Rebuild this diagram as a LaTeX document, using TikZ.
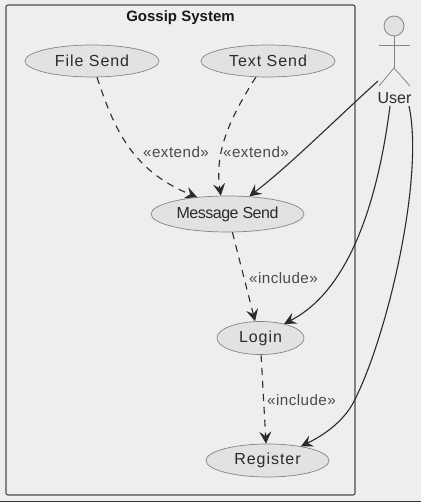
\documentclass[tikz,border=0pt]{standalone}
\usepackage{fontspec}
\setmainfont{Liberation Sans}
\newfontfamily\widefont[LetterSpace=6]{Liberation Sans}
\newfontfamily\labelfont[LetterSpace=3]{Liberation Sans}
\newfontfamily\tightfont[LetterSpace=-3]{Liberation Sans}
\usetikzlibrary{arrows.meta,shapes.geometric}
\definecolor{pagebg}{HTML}{EEEEEE}
\definecolor{casefill}{HTML}{E2E2E2}
\definecolor{caseline}{HTML}{858585}
\definecolor{edgeink}{HTML}{2B2B2B}

\begin{document}
\begin{tikzpicture}[x=1pt, y=-1pt, every node/.style={font=\fontsize{16}{18}\selectfont, text=edgeink, inner sep=0pt},
	usecase/.style={draw=caseline, fill=casefill, ellipse, line width=0.7pt, minimum height=32pt},
	stick/.style={draw=caseline, line width=0.8pt},
	edgelabel/.style={font=\labelfont\fontsize{15.2}{17}\selectfont, text=edgeink!85!white},
	assoc/.style={edgeink, line width=1.1pt, -{Stealth[length=12pt, width=12pt, inset=4.5pt]}},
	relation/.style={assoc, dash pattern=on 7pt off 6pt}]
	\useasboundingbox (0,0) rectangle (421,502);
	\fill[pagebg] (0,0) rectangle (421,502);
	\draw[black!80, line width=1pt] (0,501.5) -- (421,501.5);
	\node[draw=black!70, line width=1.1pt, rounded corners=2pt, minimum width=349pt, minimum height=490pt] (gossip) at (180.5,250) {};
	\node[font=\bfseries\fontsize{15}{17}\selectfont, text=black!90] (gossiptitle) at (180.5,17.5) {Gossip System};
	\node[usecase, minimum width=134pt, font=\widefont\fontsize{16}{18}\selectfont] (filesend) at (92,61) {File Send};
	\node[usecase, minimum width=134pt, font=\widefont\fontsize{16}{18}\selectfont] (textsend) at (268,61) {Text Send};
	\node[usecase, minimum width=153pt, minimum height=36pt, font=\tightfont\fontsize{16}{18}\selectfont] (messagesend) at (227.5,214) {Message Send};
	\node[usecase, minimum width=87pt, minimum height=33pt, font=\widefont\fontsize{16}{18}\selectfont] (login) at (260.5,338) {Login};
	\node[usecase, minimum width=123pt, minimum height=33pt, font=\widefont\fontsize{16}{18}\selectfont] (register) at (267.5,460.5) {Register};
	\node[draw=caseline, fill=casefill, circle, line width=0.8pt, minimum size=20pt] (head) at (394,26) {};
	\coordinate (hip) at (394,68);
	\coordinate (armleft) at (379,45);
	\coordinate (armright) at (410,45);
	\coordinate (footleft) at (379,86);
	\coordinate (footright) at (410,86);
	\draw[stick] (head) -- (hip);
	\draw[stick] (armleft) -- (armright);
	\draw[stick] (footleft) -- (hip) -- (footright);
	\node (user) at (394.5,98) {User};
	\coordinate (userfoot) at (378,81);
	\coordinate (userleft) at (390,106);
	\coordinate (userright) at (409,106);
	\draw[relation] (filesend.-73) .. controls (113,125) and (130,170) .. (messagesend.151);
	\draw[relation] (textsend.233) .. controls (232,115) and (214,150) .. (messagesend.110);
	\draw[assoc] (userfoot) .. controls (335,120) and (290,165) .. (messagesend.39);
	\draw[assoc] (userleft) .. controls (378,200) and (350,290) .. (login.31);
	\draw[assoc] (userright) .. controls (425,180) and (385,345) .. (352,405) .. controls (340,425) and (320,437) .. (register.23);
	\draw[relation] (messagesend.-75) -- (login.108);
	\draw[relation] (login.-88) -- (register.95);
	\node[edgelabel] (extendfile) at (176,152) {«extend»};
	\node[edgelabel] (extendtext) at (256,152) {«extend»};
	\node[edgelabel] (includelogin) at (283.5,278) {«include»};
	\node[edgelabel] (includeregister) at (301.5,400) {«include»};
\end{tikzpicture}
\end{document}
